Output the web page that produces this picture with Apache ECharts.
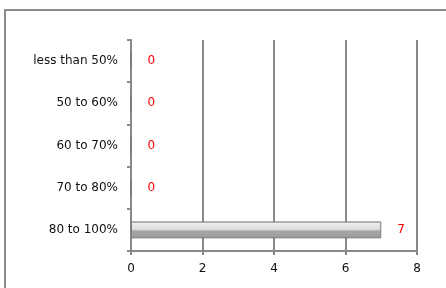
<!DOCTYPE html>
<html>
<head>
<meta charset="utf-8">
<script src="https://cdn.jsdelivr.net/npm/echarts@6/dist/echarts.min.js"></script>
<style>
  html, body { margin: 0; padding: 0; background: #fff; }
  #chart { width: 446px; height: 288px; }
</style>
</head>
<body>
<div id="chart"></div>
<script>
// bands, bottom to top as ECharts draws a category y axis
const categories = ['80 to 100%', '70 to 80%', '60 to 70%', '50 to 60%', 'less than 50%']
const counts = [7, 0, 0, 0, 0]
const xTicks = [0, 2, 4, 6, 8]

let myChart = echarts.init(document.getElementById('chart'))

const labelFont = 'DejaVu Sans, Verdana, sans-serif'

myChart.setOption({
  animation: false,
  graphic: [
    {
      // frame of the chart area, its right and bottom sides fall outside the picture
      type: 'polyline',
      shape: { points: [[5, 300], [5, 10], [460, 10]] },
      style: { fill: 'none', stroke: '#8c8c8c', lineWidth: 2 },
      silent: true
    }
  ],
  grid: { left: 131, right: 29, top: 40, bottom: 37 },
  xAxis: {
    type: 'value',
    min: xTicks[0],
    max: xTicks[xTicks.length - 1],
    interval: 2,
    axisLine: { show: true, lineStyle: { color: '#888', width: 2 } },
    axisTick: { show: true, length: 4, lineStyle: { color: '#888', width: 2 } },
    axisLabel: { color: '#111', fontSize: 12, fontFamily: labelFont, margin: 12 },
    splitLine: { show: true, lineStyle: { color: '#888', width: 2 } }
  },
  yAxis: {
    type: 'category',
    data: categories,
    axisLine: { show: true, lineStyle: { color: '#888', width: 2 } },
    axisTick: { show: true, length: 4, lineStyle: { color: '#888', width: 2 } },
    axisLabel: { color: '#111', fontSize: 12, fontFamily: labelFont, margin: 13 }
  },
  series: [
    {
      type: 'bar',
      data: counts,
      barWidth: '40%',
      itemStyle: {
        color: new echarts.graphic.LinearGradient(0, 0, 0, 1, [
          { offset: 0, color: '#c8c8c8' },
          { offset: 0.12, color: '#ececec' },
          { offset: 0.5, color: '#dadada' },
          { offset: 0.55, color: '#a8a8a8' },
          { offset: 1, color: '#9a9a9a' }
        ]),
        borderColor: '#7a7a7a',
        borderWidth: 1
      },
      label: {
        show: true,
        position: 'right',
        distance: 16,
        color: '#ff0000',
        fontSize: 12,
        fontFamily: labelFont
      }
    }
  ]
})
</script>
</body>
</html>
